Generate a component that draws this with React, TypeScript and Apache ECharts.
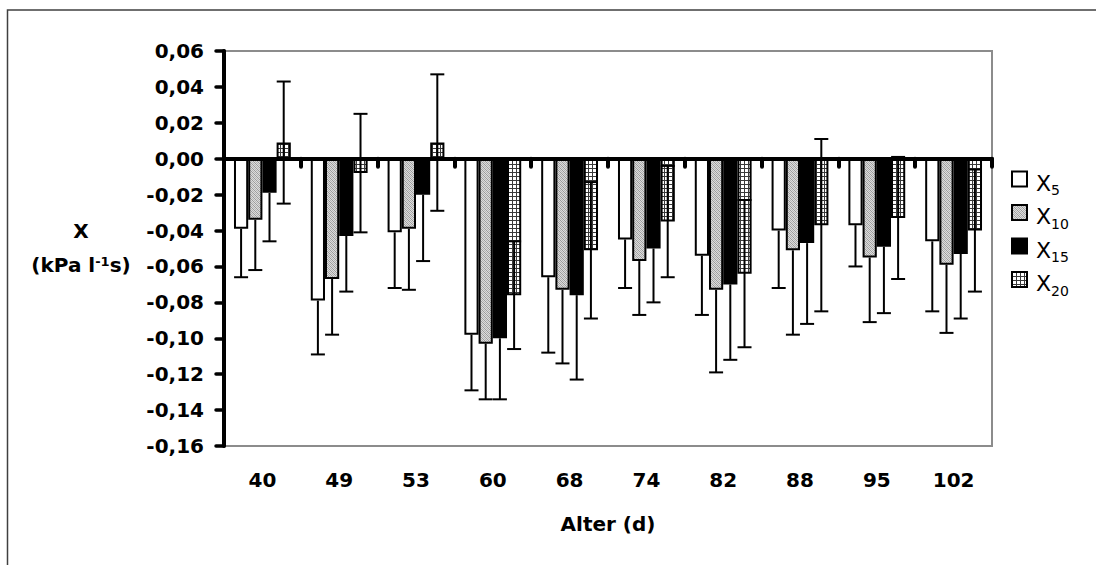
import React, { useEffect, useRef } from 'react';
import * as echarts from 'echarts';

const categories = ['40', '49', '53', '60', '68', '74', '82', '88', '95', '102'];
const seriesNames = ['X5', 'X10', 'X15', 'X20'];

const x5 = [-0.039, -0.079, -0.041, -0.098, -0.066, -0.045, -0.054, -0.040, -0.037, -0.046];
const x5Err = [0.027, 0.030, 0.031, 0.031, 0.042, 0.027, 0.033, 0.032, 0.023, 0.039];
const x10 = [-0.034, -0.067, -0.039, -0.103, -0.073, -0.057, -0.073, -0.051, -0.055, -0.059];
const x10Err = [0.028, 0.031, 0.034, 0.031, 0.041, 0.030, 0.046, 0.047, 0.036, 0.038];
const x15 = [-0.019, -0.043, -0.020, -0.100, -0.076, -0.050, -0.070, -0.047, -0.049, -0.053];
const x15Err = [0.027, 0.031, 0.037, 0.034, 0.047, 0.030, 0.042, 0.045, 0.037, 0.036];
const x20 = [0.009, -0.008, 0.009, -0.076, -0.051, -0.035, -0.064, -0.037, -0.033, -0.040];
const x20Err = [0.034, 0.033, 0.038, 0.030, 0.038, 0.031, 0.041, 0.048, 0.034, 0.034];

const yMin = -0.16;
const yMax = 0.06;
const yInterval = 0.02;

const FONT = "'DejaVu Sans', sans-serif";
const BAR_CAT_GAP = 0.26;

function makeGridPattern() {
  const c = document.createElement('canvas');
  c.width = 4;
  c.height = 4;
  const g = c.getContext('2d')!;
  g.fillStyle = '#ffffff';
  g.fillRect(0, 0, 4, 4);
  g.fillStyle = '#3a3a3a';
  g.fillRect(0, 0, 4, 1);
  g.fillRect(0, 0, 1, 4);
  return { image: c, repeat: 'repeat', imageWidth: 4, imageHeight: 4 };
}

function makeGrayPattern() {
  const c = document.createElement('canvas');
  c.width = 4;
  c.height = 4;
  const g = c.getContext('2d')!;
  g.fillStyle = '#dcdcdc';
  g.fillRect(0, 0, 4, 4);
  g.fillStyle = '#9a9a9a';
  for (let i = 0; i < 4; i++) g.fillRect(i, i, 1, 1);
  g.fillStyle = '#b4b4b4';
  for (let i = 0; i < 4; i++) g.fillRect((i + 2) % 4, i, 1, 1);
  return { image: c, repeat: 'repeat', imageWidth: 4, imageHeight: 4 };
}

function fmt(v: number) {
  const val = Math.abs(v) < 1e-9 ? 0 : v;
  return val.toFixed(2).replace('.', ',');
}

function makeErr(si: number, vals: number[], errs: number[], both: boolean) {
  return {
    type: 'custom',
    name: 'err' + si,
    z: both ? 4 : 1,
    silent: true,
    xAxisIndex: 0,
    yAxisIndex: 0,
    data: vals.map((v, i) => [i, v, errs[i]]),
    encode: { x: 0, y: 1 },
    renderItem: (_params: any, api: any) => {
      const ci = api.value(0);
      const v = api.value(1);
      const e = api.value(2);
      const band = api.size([1, 0])[0];
      const w = (band * (1 - BAR_CAT_GAP)) / 4;
      const cx = api.coord([ci, v])[0] + (si - 1.5) * w;
      const yTop = api.coord([ci, both ? v + e : v])[1];
      const yBot = api.coord([ci, v - e])[1];
      const cap = 7;
      const style = { stroke: '#000', lineWidth: 2 };
      const children: any[] = [
        { type: 'line', shape: { x1: cx, y1: yTop, x2: cx, y2: yBot }, style },
        { type: 'line', shape: { x1: cx - cap, y1: yBot, x2: cx + cap, y2: yBot }, style },
      ];
      if (both) {
        children.push({ type: 'line', shape: { x1: cx - cap, y1: yTop, x2: cx + cap, y2: yTop }, style });
      }
      return { type: 'group', children };
    },
  };
}

export default function App() {
  const ref = useRef<HTMLDivElement>(null);

  useEffect(() => {
    document.body.style.margin = '0';
    const chart = echarts.init(ref.current!, null, { renderer: 'svg' });
    const gray = makeGrayPattern();
    const grid = makeGridPattern();
    const fills: any[] = ['#ffffff', gray, '#000000', grid];
    const values = [x5, x10, x15, x20];
    const errs = [x5Err, x10Err, x15Err, x20Err];

    const barSeries = seriesNames.map((name, i) => ({
      type: 'bar',
      name,
      data: values[i],
      xAxisIndex: 0,
      yAxisIndex: 0,
      barGap: '0%',
      barCategoryGap: BAR_CAT_GAP * 100 + '%',
      z: 2,
      itemStyle: { color: fills[i], borderColor: '#000', borderWidth: 2 },
      emphasis: { disabled: true },
    }));
    const errSeries = seriesNames.map((_n, i) => makeErr(i, values[i], errs[i], i === 3));

    const option: any = {
      animation: false,
      backgroundColor: '#ffffff',
      textStyle: { fontFamily: FONT },
      grid: {
        left: 224,
        right: 104,
        top: 51,
        bottom: 119,
        show: true,
        borderColor: '#8c8c8c',
        borderWidth: 2,
        backgroundColor: 'transparent',
      },
      legend: {
        data: seriesNames,
        orient: 'vertical',
        left: 1006,
        top: 163,
        itemWidth: 15,
        itemHeight: 15,
        itemGap: 4.5,
        icon: 'rect',
        selectedMode: false,
        formatter: (n: string) => `{x|X}{s|${n.slice(1)}}`,
        textStyle: {
          fontFamily: FONT,
          color: '#000',
          rich: {
            x: { fontSize: 22, lineHeight: 22, verticalAlign: 'top', padding: [4, 0, 0, 4], fontFamily: FONT, color: '#000' },
            s: { fontSize: 14, lineHeight: 14, verticalAlign: 'top', padding: [15, 0, 0, 0], fontFamily: FONT, color: '#000' },
          },
        },
      },
      xAxis: [
        {
          type: 'category',
          data: categories,
          position: 'bottom',
          z: 5,
          axisLine: { show: true, onZero: true, lineStyle: { color: '#000', width: 4 } },
          axisTick: { show: true, length: 8, lineStyle: { color: '#000', width: 4, cap: 'round' } },
          axisLabel: { show: false },
          splitLine: { show: false },
        },
        {
          type: 'category',
          data: categories,
          position: 'bottom',
          axisLine: { show: false, onZero: false },
          axisTick: { show: false },
          axisLabel: { show: true, margin: 24, fontFamily: FONT, fontWeight: 'bold', fontSize: 20, color: '#000' },
          splitLine: { show: false },
          name: 'Alter (d)',
          nameLocation: 'middle',
          nameGap: 68,
          nameTextStyle: { fontFamily: FONT, fontWeight: 'bold', fontSize: 20, color: '#000' },
        },
      ],
      yAxis: {
        type: 'value',
        min: yMin,
        max: yMax,
        interval: yInterval,
        z: 5,
        axisLine: { show: true, lineStyle: { color: '#000', width: 4 } },
        axisTick: { show: true, length: 8, lineStyle: { color: '#000', width: 3.5, cap: 'round' } },
        axisLabel: {
          formatter: fmt,
          margin: 20,
          fontFamily: FONT,
          fontWeight: 'bold',
          fontSize: 20,
          color: '#000',
        },
        splitLine: { show: false },
      },
      graphic: [
        {
          type: 'rect',
          shape: { x: 7.5, y: 10, width: 2000, height: 2000 },
          style: { fill: 'none', stroke: '#404040', lineWidth: 1.5 },
          silent: true,
          z: -1,
        },
        {
          type: 'text',
          x: 81,
          y: 231,
          style: {
            text: 'X',
            fontFamily: FONT,
            fontWeight: 'bold',
            fontSize: 20,
            fill: '#000',
            align: 'center',
            verticalAlign: 'middle',
          },
        },
        {
          type: 'text',
          x: 81,
          y: 267,
          style: {
            text: '{b|(kPa l}{sup|-1}{b|s)}',
            fontFamily: FONT,
            fontWeight: 'bold',
            fontSize: 20,
            fill: '#000',
            align: 'center',
            verticalAlign: 'middle',
            rich: {
              b: { fontFamily: FONT, fontWeight: 'bold', fontSize: 20, lineHeight: 24, verticalAlign: 'top', fill: '#000' },
              sup: { fontFamily: FONT, fontWeight: 'bold', fontSize: 13, lineHeight: 12, verticalAlign: 'top', fill: '#000' },
            },
          },
        },
      ],
      series: [...barSeries, ...errSeries],
    };
    chart.setOption(option);
    return () => chart.dispose();
  }, []);

  return <div ref={ref} style={{ width: 1096, height: 565 }} />;
}
